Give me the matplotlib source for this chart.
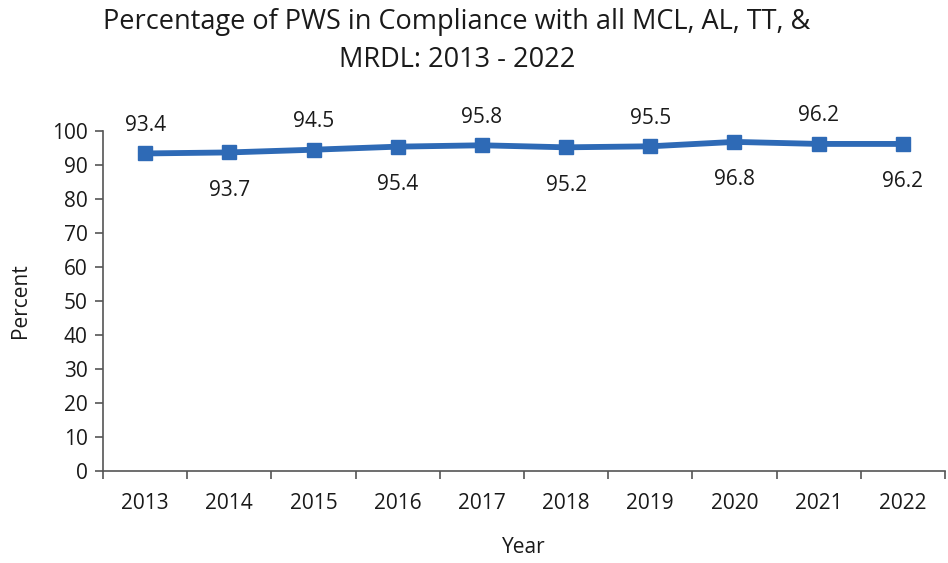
import matplotlib
matplotlib.use("Agg")
import matplotlib.pyplot as plt
import numpy as np

years = ["2013", "2014", "2015", "2016", "2017", "2018", "2019", "2020", "2021", "2022"]
values = [93.4, 93.7, 94.5, 95.4, 95.8, 95.2, 95.5, 96.8, 96.2, 96.2]
label_above = [True, False, True, False, True, False, True, False, True, False]

plt.rcParams['font.family'] = ['Open Sans', 'DejaVu Sans']
text_color = '#1a1a1a'
line_color = '#2E6AB6'
fs = 15

fig = plt.figure(figsize=(9.48, 5.63), dpi=100)
ax = fig.add_axes([0.1087, 0.1634, 0.8881, 0.6039])

x = np.arange(len(years))
ax.plot(x, values, color=line_color, lw=4.2, marker='s', ms=10, solid_joinstyle='round')

for xi, v, above in zip(x, values, label_above):
    off = 28 if above else -38
    ax.annotate(f"{v:.1f}", (xi, v), xytext=(0, off), textcoords='offset pixels',
                ha='center', va='center', fontsize=fs, color=text_color)

ax.set_xlim(-0.5, len(years) - 0.5)
ax.set_ylim(0, 100)
ax.set_yticks(np.arange(0, 101, 10))
ax.set_xticks(x)
ax.set_xticklabels(years)
ax.set_xticks(np.arange(-0.5, len(years), 1), minor=True)
ax.tick_params(axis='x', which='major', length=0, pad=16, labelsize=fs, labelcolor=text_color)
ax.tick_params(axis='x', which='minor', length=6, width=1.2, color='#555555', direction='out')
ax.tick_params(axis='y', length=6, width=1.2, color='#555555', direction='out', labelsize=fs,
               labelcolor=text_color, pad=5)

for s in ['top', 'right']:
    ax.spines[s].set_visible(False)
for s in ['left', 'bottom']:
    ax.spines[s].set_color('#555555')
    ax.spines[s].set_linewidth(1.2)

ax.set_xlabel("Year", fontsize=fs, color=text_color)
ax.set_ylabel("Percent", fontsize=fs, color=text_color)
ax.xaxis.set_label_coords(0.5, -0.226)
ax.xaxis.label.set_va('center')
ax.yaxis.set_label_coords(-0.0986, 0.5)
ax.yaxis.label.set_va('center')

fig.text(0.482, 0.927, "Percentage of PWS in Compliance with all MCL, AL, TT, &\nMRDL: 2013 - 2022",
         ha='center', va='center', fontsize=19.5, color=text_color, linespacing=1.45)

fig.savefig("out.png", dpi=100)
